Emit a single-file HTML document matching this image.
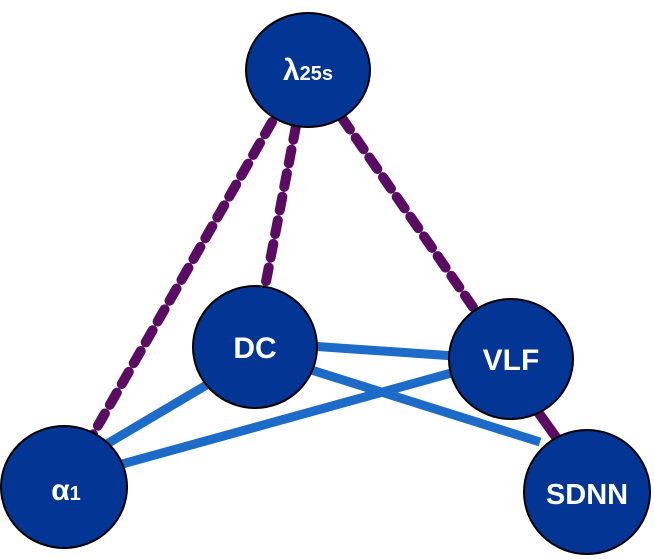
<!DOCTYPE html>
<html><head><style>body{margin:0;background:#fff}svg{display:block}</style></head><body>
<svg width="654" height="559" viewBox="0 0 654 559" xmlns="http://www.w3.org/2000/svg">
<g stroke="#5a0c62" stroke-width="10" stroke-linecap="round" stroke-dasharray="14 10" fill="none">
<line x1="272" y1="122" x2="92" y2="436"/>
<line x1="296" y1="126" x2="264" y2="292"/>
<line x1="342" y1="118" x2="475" y2="310"/>
</g>
<line x1="538" y1="412" x2="558" y2="440" stroke="#5a0c62" stroke-width="10"/>
<g stroke="#1d6bc8" stroke-width="9" fill="none">
<line x1="310" y1="346" x2="455" y2="356"/>
<line x1="305" y1="368" x2="540" y2="442"/>
<line x1="100" y1="448" x2="215" y2="380"/>
<line x1="115" y1="466" x2="455" y2="372"/>
</g>
<g fill="#023594" stroke="#000" stroke-width="2">
<ellipse cx="308" cy="70" rx="62" ry="57"/>
<ellipse cx="255" cy="347" rx="62" ry="61"/>
<ellipse cx="511" cy="359" rx="62" ry="60"/>
<ellipse cx="64" cy="487" rx="63" ry="61"/>
<ellipse cx="587" cy="492" rx="63" ry="62"/>
</g>
<g fill="#fff" font-family="Liberation Sans, sans-serif" font-weight="bold" text-anchor="middle">
<text x="308" y="80" font-size="30">λ<tspan font-size="20">25s</tspan></text>
<text x="255" y="358" font-size="30">DC</text>
<text x="511" y="370" font-size="30">VLF</text>
<text x="66" y="500" font-size="30">α<tspan font-size="20">1</tspan></text>
<text x="587" y="504" font-size="29">SDNN</text>
</g>
</svg>
</body></html>
